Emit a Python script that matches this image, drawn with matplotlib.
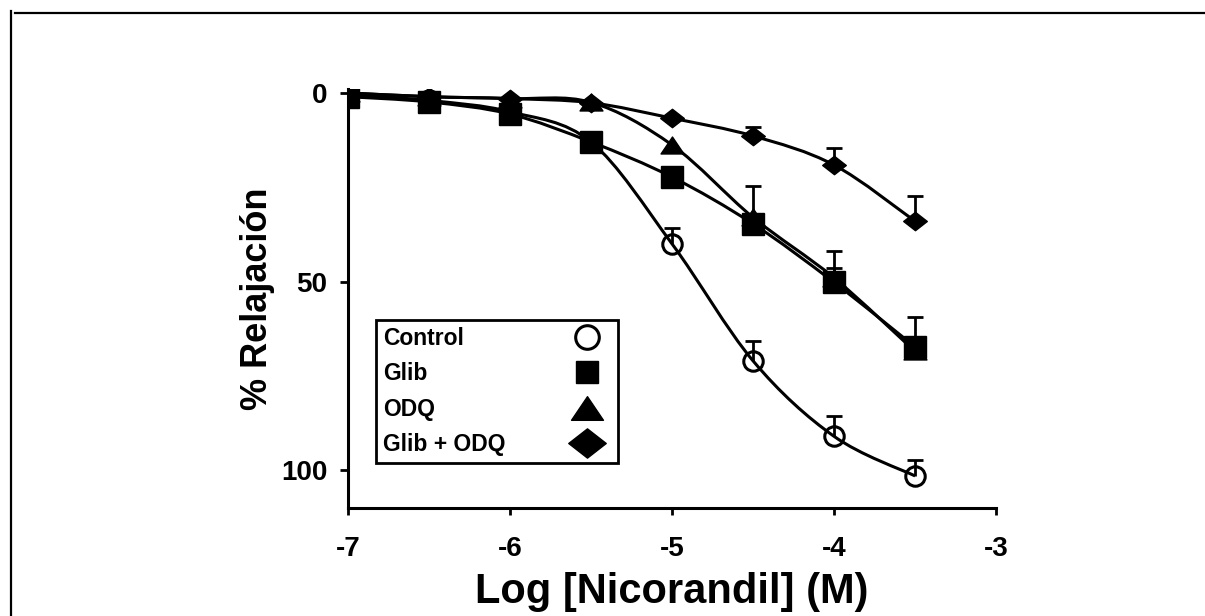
import matplotlib
matplotlib.use("Agg")
import matplotlib.pyplot as plt
import numpy as np
from matplotlib.path import Path
from matplotlib.patches import PathPatch
from matplotlib.lines import Line2D

plt.rcParams['font.family'] = ['Liberation Sans', 'DejaVu Sans']
plt.rcParams['font.weight'] = 'bold'
plt.rcParams['axes.unicode_minus'] = False

# datos
log_conc = [-7, -6.5, -6, -5.5, -5, -4.5, -4, -3.5]
control = [0.5, 2, 5, 13, 40, 71, 91, 101.5]
control_err = [0, 0, 0, 0, 4.3, 5.2, 5.5, 4.3]
glib = [1, 2.4, 5.6, 13, 22.3, 34.7, 50.2, 67.3]
glib_err = [0, 0, 0, 0, 0, 10, 8.2, 8]
odq = [0, 1, 1.5, 2.5, 13.8, 33, 49, 68.5]
odq_err = [0, 0, 0, 0, 0, 0, 2.5, 0]
glib_odq = [0, 1, 1.5, 2.6, 6.7, 11.4, 19.1, 34]
glib_odq_err = [0, 0, 0, 0, 0, 2.3, 4.4, 6.7]
labels = ["Control", "Glib", "ODQ", "Glib + ODQ"]

# marcadores
tri = Path([[0, 0.74], [-1, -0.74], [1, -0.74], [0, 0.74]],
           [Path.MOVETO, Path.LINETO, Path.LINETO, Path.CLOSEPOLY])
diamond = Path([[-1, 0], [0, 0.78], [1, 0], [0, -0.78], [-1, 0]],
               [Path.MOVETO, Path.LINETO, Path.LINETO, Path.LINETO, Path.CLOSEPOLY])


def smooth_path(x, y):
    # curva suave (Catmull-Rom -> Bezier) que pasa por los puntos
    p = np.column_stack([x, y]).astype(float)
    ext = np.vstack([p[0], p, p[-1]])
    verts = [p[0]]
    codes = [Path.MOVETO]
    for i in range(len(p) - 1):
        p0, p1, p2, p3 = ext[i], ext[i + 1], ext[i + 2], ext[i + 3]
        verts += [p1 + (p2 - p0) / 6, p2 - (p3 - p1) / 6, p2]
        codes += [Path.CURVE4] * 3
    return Path(verts, codes)


fig = plt.figure(figsize=(12.05, 6.16), dpi=100)
ax = fig.add_axes([0.2888, 0.1753, 0.5378, 0.680])

series = [
    (control, control_err, dict(marker='o', ms=14, mfc='none', mec='black', mew=2.2), 17),
    (odq, odq_err, dict(marker=tri, ms=16.5, mfc='black', mec='black'), 23),
    (glib, glib_err, dict(marker='s', ms=16, mfc='black', mec='black'), 16),
    (glib_odq, glib_odq_err, dict(marker=diamond, ms=17, mfc='black', mec='black'), 27),
]
order = [0, 2, 1, 3]  # orden de la leyenda

x = np.array(log_conc)
handles = []
for z, (y, err, mk, _) in enumerate(series):
    y = np.array(y)
    err = np.array(err)
    m = err > 0
    ax.add_patch(PathPatch(smooth_path(x, y), fill=False, ec='black', lw=2.2, zorder=2 + z))
    if m.any():
        _, caps, _ = ax.errorbar(x[m], y[m], yerr=[err[m], np.zeros(m.sum())], fmt='none',
                                 ecolor='black', elinewidth=2, capsize=6, capthick=2, zorder=2 + z)
        caps[1].set_visible(False)
    h, = ax.plot(x, y, ls='none', zorder=3 + z, **mk)
    handles.append(h)

ax.set_xlim(-7, -3)
ax.set_ylim(110, -1)
ax.set_xticks([-7, -6, -5, -4, -3])
ax.set_yticks([0, 50, 100])
for s in ['top', 'right']:
    ax.spines[s].set_visible(False)
for s in ['left', 'bottom']:
    ax.spines[s].set_linewidth(2.2)
ax.tick_params(axis='x', labelsize=20, length=5, width=2, pad=15)
ax.tick_params(axis='y', labelsize=20, length=6, width=2, pad=9)

ax.set_xlabel("Log [Nicorandil] (M)", fontsize=30, fontweight='bold', labelpad=7)
ax.set_ylabel("% Relajación", fontsize=26, fontweight='bold', labelpad=4)

leg = ax.legend([handles[i] for i in order], labels, loc='lower left',
                bbox_to_anchor=(0.043, 0.107), borderaxespad=0, markerfirst=False,
                fancybox=False, edgecolor='black', framealpha=1,
                prop={'size': 16.5, 'weight': 'bold'}, handlelength=2.1,
                handletextpad=2.5, labelspacing=0.54, borderpad=0.31)
leg.get_frame().set_linewidth(2)
for i, lh in zip(order, leg.legend_handles):
    lh.set_markersize(series[i][3])

# textos de la leyenda alineados a la izquierda
fig.canvas.draw()
r = fig.canvas.get_renderer()
widths = [t.get_window_extent(r).width for t in leg.texts]
wmax = max(widths)
for t, w in zip(leg.texts, widths):
    t.set_x(t.get_position()[0] - (wmax - w))

# marco de la figura (arriba e izquierda)
fig.add_artist(Line2D([0.0124, 1.0], [0.9794, 0.9794], color='black', lw=1.6, transform=fig.transFigure))
fig.add_artist(Line2D([0.0091, 0.0091], [0.0, 0.982], color='black', lw=1.6, transform=fig.transFigure))

plt.savefig("out.png", dpi=100)
